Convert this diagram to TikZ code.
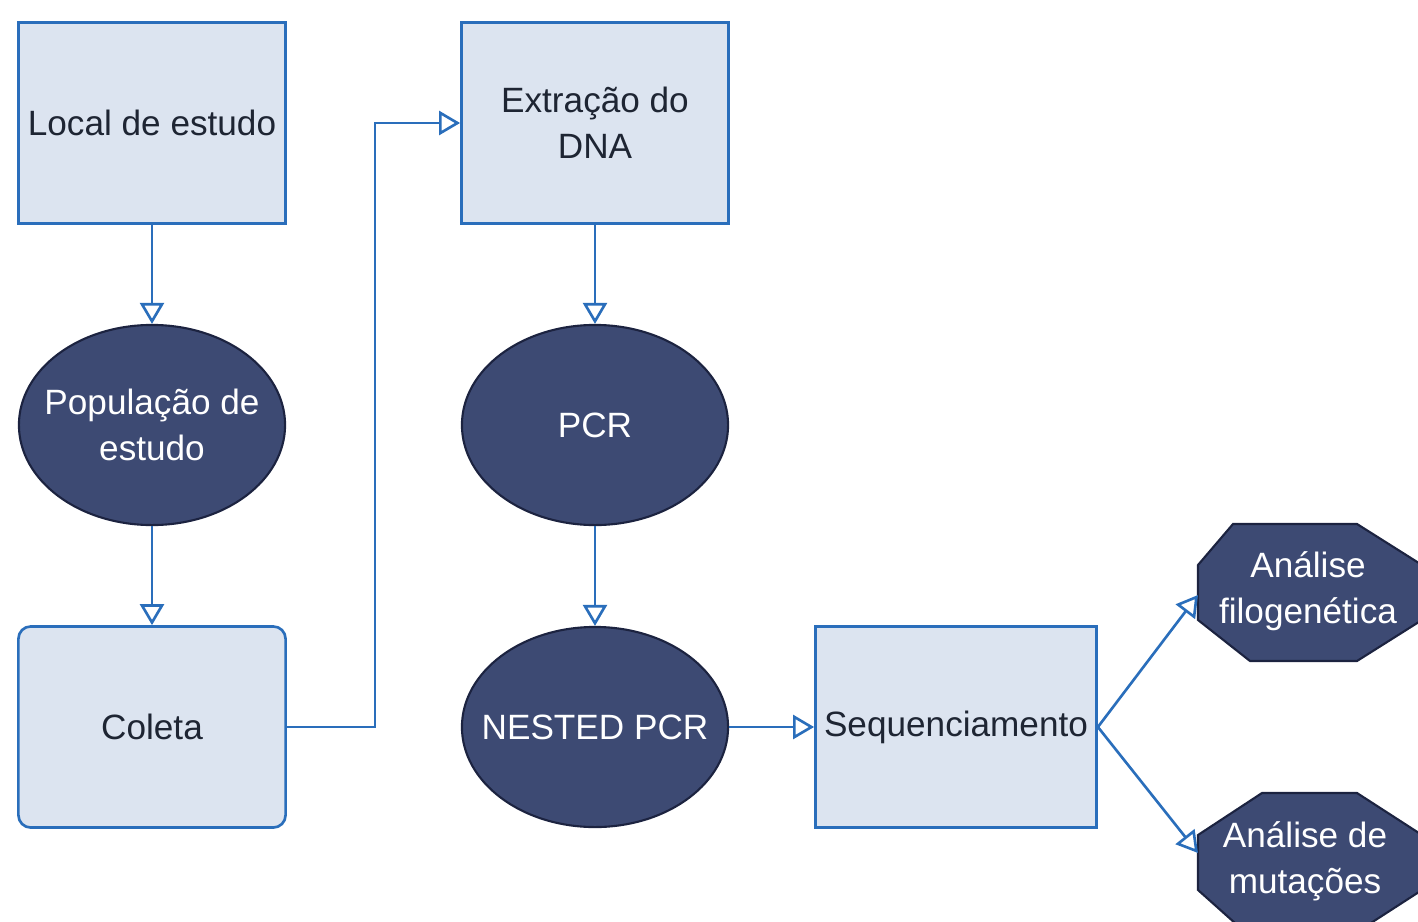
\documentclass[tikz,border=0pt]{standalone}
\usepackage{fontspec}
\setmainfont{Liberation Sans}
\usetikzlibrary{arrows.meta,shapes.geometric}
\definecolor{boxfill}{HTML}{DCE4F0}
\definecolor{lineblue}{HTML}{2A6EBB}
\definecolor{darkfill}{HTML}{3D4A73}
\definecolor{darkline}{HTML}{1C2340}
\definecolor{txtdark}{HTML}{1E2533}
\tikzset{
  lightbox/.style={draw=lineblue, fill=boxfill, line width=0.75pt, minimum width=2.67cm, minimum height=2.01cm, inner sep=0pt, text=txtdark, align=center, font=\fontsize{10}{13}\selectfont},
  darkell/.style={ellipse, draw=darkline, fill=darkfill, line width=0.6pt, minimum width=2.66cm, minimum height=2.0cm, inner sep=0pt},
  whitetxt/.style={text=white, align=center, font=\fontsize{10}{13}\selectfont, inner sep=0pt},
  octo/.style={draw=darkline, fill=darkfill, line width=0.6pt},
  conn/.style={draw=lineblue, line width=0.75pt, -{Triangle[length=2.1mm,width=2.4mm,fill=white,line width=0.75pt]}},
}
\begin{document}
\begin{tikzpicture}[x=0.01cm,y=-0.01cm]
\useasboundingbox (0,0) rectangle (1418,921);
\clip (0,0) rectangle (1418,921);
% column 1
\node[lightbox] (local) at (152,123) {Local de estudo};
\node[darkell, label={[whitetxt]center:População de\\estudo}] (pop) at (152,425) {};
\node[lightbox, rounded corners=3.5pt] (coleta) at (152,727) {Coleta};
% column 2
\node[lightbox] (extr) at (595,123) {Extração do\\DNA};
\node[darkell, label={[whitetxt]center:PCR}] (pcr) at (595,425) {};
\node[darkell, label={[whitetxt]center:NESTED PCR}] (nested) at (595,727) {};
% sequencing
\node[lightbox, minimum width=2.81cm] (seq) at (956,727) {Sequenciamento};
% octagons
\fill[octo] (1198,565) -- (1233,524) -- (1357,524) -- (1422,565) -- (1422,620) -- (1357,661) -- (1250,661) -- (1198,620) -- cycle;
\node[whitetxt] (filo) at (1308,591) {Análise\\filogenética};
\fill[octo] (1198,835) -- (1262,793) -- (1357,793) -- (1422,835) -- (1422,890) -- (1357,932) -- (1245,932) -- (1198,890) -- cycle;
\node[whitetxt] (mut) at (1305,861) {Análise de\\mutações};
\coordinate (filoin) at (1198,595);
\coordinate (mutin) at (1198,853);
\coordinate (bendlow) at (375,727);
\coordinate (bendhigh) at (375,123);
% connectors
\draw[conn] (local.south) -- (pop.north);
\draw[conn] (pop.south) -- (coleta.north);
\draw[conn] (coleta.east) -- (bendlow) -- (bendhigh) -- (extr.west);
\draw[conn] (extr.south) -- (pcr.north);
\draw[conn] (pcr.south) -- (nested.north);
\draw[conn] (nested.east) -- (seq.west);
\draw[conn] (seq.east) -- (filoin);
\draw[conn] (seq.east) -- (mutin);
\end{tikzpicture}
\end{document}
